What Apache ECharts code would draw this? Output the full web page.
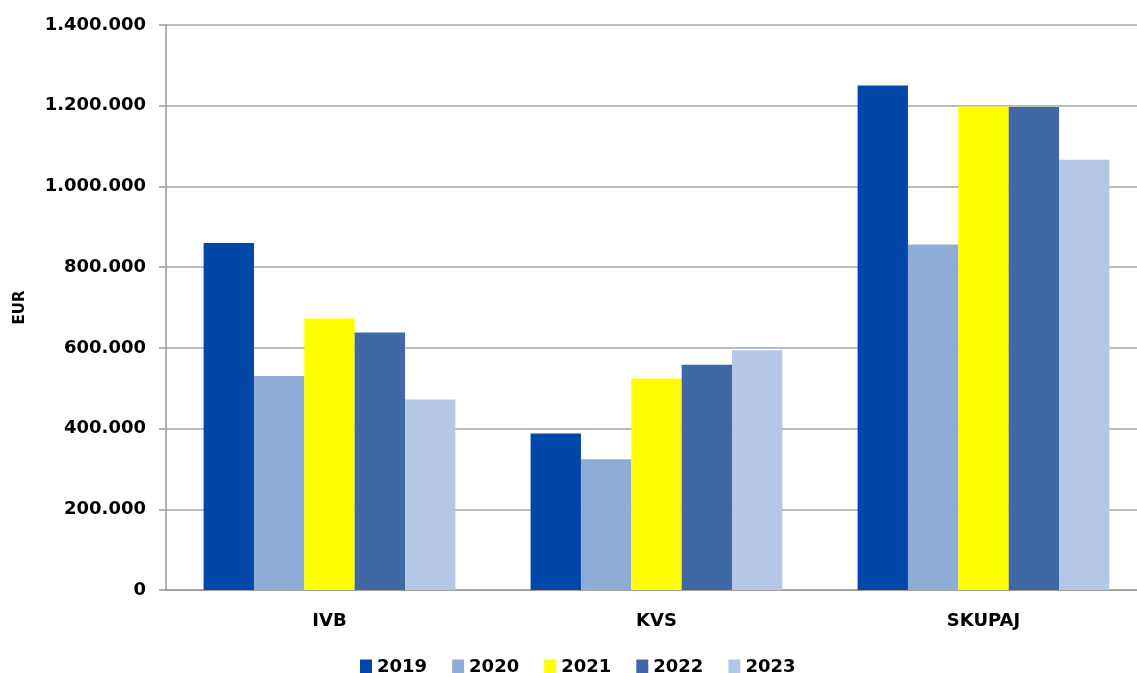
<!DOCTYPE html>
<html>
<head>
<meta charset="utf-8">
<script src="https://cdn.jsdelivr.net/npm/echarts@6/dist/echarts.min.js"></script>
<style>
    html, body { margin: 0; padding: 0; background: #fff; }
    #chart { width: 1137px; height: 673px; }
</style>
</head>
<body>
<div id="chart"></div>
<script>
const categories = ['IVB', 'KVS', 'SKUPAJ']
const years = ['2019', '2020', '2021', '2022', '2023']
const values2019 = [860000, 388000, 1250000]
const values2020 = [530000, 324000, 856000]
const values2021 = [673000, 524000, 1198000]
const values2022 = [638000, 558000, 1197000]
const values2023 = [472000, 594000, 1066000]
const colors = ['#0047A8', '#8EACD6', '#FFFF00', '#3F68A4', '#B4C7E7']

{
    const seriesValues = [values2019, values2020, values2021, values2022, values2023]
    const font = 'DejaVu Sans'
    const fmt = v => String(v).replace(/\B(?=(\d{3})+(?!\d))/g, '.')

    let chart = echarts.init(document.getElementById('chart'))
    chart.setOption({
        animation: false,
        textStyle: { fontFamily: font },
        grid: { left: 166, width: 981, top: 25, bottom: 83, outerBoundsMode: 'none' },
        legend: {
            top: 653,
            left: 355,
            itemWidth: 12,
            itemHeight: 15,
            itemGap: 25,
            icon: 'rect',
            textStyle: { fontFamily: font, fontWeight: 'bold', fontSize: 18, color: '#000' },
            data: years
        },
        xAxis: {
            type: 'category',
            data: categories,
            axisLine: { lineStyle: { color: '#999', width: 1.5 } },
            axisTick: { show: false },
            axisLabel: { margin: 22, fontFamily: font, fontWeight: 'bold', fontSize: 18, color: '#000' }
        },
        yAxis: {
            type: 'value',
            min: 0,
            max: 1400000,
            interval: 200000,
            name: 'EUR',
            nameLocation: 'middle',
            nameGap: 138,
            nameRotate: 90,
            nameTextStyle: { fontFamily: font, fontWeight: 'bold', fontSize: 15, color: '#000' },
            axisLine: { show: true, lineStyle: { color: '#999', width: 1.5 } },
            axisTick: { show: true, length: 7, lineStyle: { color: '#999', width: 1.5 } },
            splitLine: { lineStyle: { color: '#a6a6a6', width: 1.5 } },
            axisLabel: { margin: 20, formatter: fmt, fontFamily: font, fontWeight: 'bold', fontSize: 18, color: '#000' }
        },
        series: years.map((y, i) => ({
            name: y,
            type: 'bar',
            data: seriesValues[i],
            barGap: '0%',
            barCategoryGap: '23%',
            itemStyle: { color: colors[i] }
        }))
    })
}
</script>
</body>
</html>
